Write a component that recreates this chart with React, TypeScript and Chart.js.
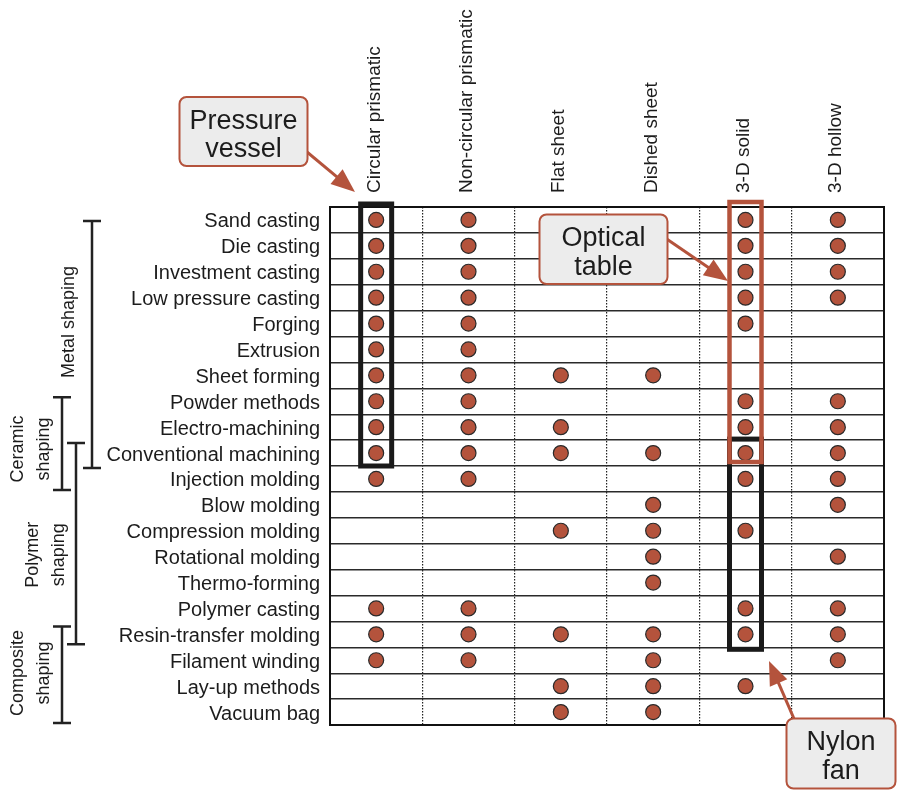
import React, { useEffect, useRef } from 'react';
import { Chart, registerables } from 'chart.js';

Chart.register(...registerables);

// ---------- data ----------
const processes = [
  'Sand casting',
  'Die casting',
  'Investment casting',
  'Low pressure casting',
  'Forging',
  'Extrusion',
  'Sheet forming',
  'Powder methods',
  'Electro-machining',
  'Conventional machining',
  'Injection molding',
  'Blow molding',
  'Compression molding',
  'Rotational molding',
  'Thermo-forming',
  'Polymer casting',
  'Resin-transfer molding',
  'Filament winding',
  'Lay-up methods',
  'Vacuum bag',
];

const shapes = [
  'Circular prismatic',
  'Non-circular prismatic',
  'Flat sheet',
  'Dished sheet',
  '3-D solid',
  '3-D hollow',
];

// 1 = process can make the shape (one entry per process, in order)
const circularPrismatic = [1, 1, 1, 1, 1, 1, 1, 1, 1, 1, 1, 0, 0, 0, 0, 1, 1, 1, 0, 0];
const nonCircularPrismatic = [1, 1, 1, 1, 1, 1, 1, 1, 1, 1, 1, 0, 0, 0, 0, 1, 1, 1, 0, 0];
const flatSheet = [0, 0, 0, 0, 0, 0, 1, 0, 1, 1, 0, 0, 1, 0, 0, 0, 1, 0, 1, 1];
const dishedSheet = [0, 0, 0, 0, 0, 0, 1, 0, 0, 1, 0, 1, 1, 1, 1, 0, 1, 1, 1, 1];
const solid3D = [1, 1, 1, 1, 1, 0, 0, 1, 1, 1, 1, 0, 1, 0, 0, 1, 1, 0, 1, 0];
const hollow3D = [1, 1, 1, 1, 0, 0, 0, 1, 1, 1, 1, 1, 0, 1, 0, 1, 1, 1, 0, 0];

const shapeColumns = [circularPrismatic, nonCircularPrismatic, flatSheet, dishedSheet, solid3D, hollow3D];

// process families (brackets on the left)
const groupNames = [['Metal shaping'], ['Ceramic', 'shaping'], ['Polymer', 'shaping'], ['Composite', 'shaping']];
const groupFirstRow = [0, 7, 9, 16];
const groupLastRow = [9, 10, 16, 19];

// highlighted columns (design examples)
const highlightShape = [0, 4, 4];
const highlightFirstRow = [0, 9, 0];
const highlightLastRow = [9, 16, 9];

const calloutTexts = [['Pressure', 'vessel'], ['Optical', 'table'], ['Nylon', 'fan']];

// ---------- styles ----------
const RED = '#b4533c';
const INK = '#1c1c1c';
const FONT = '"Liberation Sans", Arial, Helvetica, sans-serif';

// bracket styling (pixels)
const bracketX = [92, 62, 76, 62];
const bracketTopInset = [14, 9, 3, 5];
const bracketBottomInset = [2, -2, -3, -2];
const bracketLabelX = [69, 18.5, 33.5, 18.5];
const bracketLabelRow = [3.94, 8.84, 12.93, 17.49];

// highlight box styling
const highlightColor = ['#1a1a1a', '#1a1a1a', RED];
const highlightWidth = [5, 5, 4.5];
const highlightTopOff = [-3, -1, -5];
const highlightBotOff = [0, 2, -4];
const highlightHalfW = [15.5, 16, 16];

// callout boxes: [x, y, w, h], arrow [x0, y0, tipX, tipY]
const calloutBox = [
  [179.5, 97, 128, 69],
  [539.5, 214.5, 128, 69.5],
  [786.5, 718.5, 109, 70],
];
const calloutArrow = [
  [295, 142, 355, 192],
  [655, 231, 728, 281],
  [798, 728, 769, 661],
];

function roundRect(ctx: CanvasRenderingContext2D, x: number, y: number, w: number, h: number, r: number) {
  ctx.beginPath();
  ctx.moveTo(x + r, y);
  ctx.lineTo(x + w - r, y);
  ctx.arcTo(x + w, y, x + w, y + r, r);
  ctx.lineTo(x + w, y + h - r);
  ctx.arcTo(x + w, y + h, x + w - r, y + h, r);
  ctx.lineTo(x + r, y + h);
  ctx.arcTo(x, y + h, x, y + h - r, r);
  ctx.lineTo(x, y + r);
  ctx.arcTo(x, y, x + r, y, r);
  ctx.closePath();
}

function arrow(ctx: CanvasRenderingContext2D, x0: number, y0: number, x1: number, y1: number) {
  const dx = x1 - x0;
  const dy = y1 - y0;
  const len = Math.hypot(dx, dy);
  const ux = dx / len;
  const uy = dy / len;
  const headL = 24;
  const headW = 9.5;
  const bx = x1 - ux * headL;
  const by = y1 - uy * headL;
  ctx.strokeStyle = RED;
  ctx.fillStyle = RED;
  ctx.lineWidth = 3;
  ctx.beginPath();
  ctx.moveTo(x0, y0);
  ctx.lineTo(bx + ux * 2, by + uy * 2);
  ctx.stroke();
  ctx.beginPath();
  ctx.moveTo(x1, y1);
  ctx.lineTo(bx - uy * headW, by + ux * headW);
  ctx.lineTo(bx + uy * headW, by - ux * headW);
  ctx.closePath();
  ctx.fill();
}

const decorPlugin = {
  id: 'decor',
  afterDraw(chart: any) {
    const { ctx, chartArea: a, scales } = chart;
    const xs = scales.x;
    const ys = scales.y;
    const rowH = ys.getPixelForValue(1) - ys.getPixelForValue(0);
    const rowTop = (r: number) => ys.getPixelForValue(r) - rowH / 2;
    const rowBot = (r: number) => ys.getPixelForValue(r) + rowH / 2;
    ctx.save();

    // outer frame
    ctx.strokeStyle = '#111';
    ctx.lineWidth = 2;
    ctx.strokeRect(a.left, a.top, a.right - a.left, a.bottom - a.top);

    // highlight boxes
    highlightShape.forEach((c, i) => {
      const cx = xs.getPixelForValue(c);
      const t = rowTop(highlightFirstRow[i]) + highlightTopOff[i];
      const b = rowBot(highlightLastRow[i]) + highlightBotOff[i];
      const hw = highlightHalfW[i];
      ctx.strokeStyle = highlightColor[i];
      ctx.lineWidth = highlightWidth[i];
      ctx.lineJoin = 'miter';
      ctx.strokeRect(cx - hw, t, hw * 2, b - t);
    });

    // family brackets
    ctx.strokeStyle = '#222';
    ctx.lineWidth = 2.5;
    groupNames.forEach((_, i) => {
      const x = bracketX[i];
      const t = rowTop(groupFirstRow[i]) + bracketTopInset[i];
      const b = rowBot(groupLastRow[i]) + bracketBottomInset[i];
      ctx.beginPath();
      ctx.moveTo(x, t);
      ctx.lineTo(x, b);
      ctx.moveTo(x - 9, t);
      ctx.lineTo(x + 9, t);
      ctx.moveTo(x - 9, b);
      ctx.lineTo(x + 9, b);
      ctx.stroke();
    });

    // bracket labels (rotated)
    ctx.fillStyle = INK;
    ctx.font = `18px ${FONT}`;
    ctx.textAlign = 'center';
    ctx.textBaseline = 'middle';
    groupNames.forEach((lines, i) => {
      const cy = ys.getPixelForValue(bracketLabelRow[i]);
      lines.forEach((txt, j) => {
        ctx.save();
        ctx.translate(bracketLabelX[i] + j * 25.5, cy);
        ctx.rotate(-Math.PI / 2);
        ctx.fillText(txt, 0, 0);
        ctx.restore();
      });
    });

    // callouts
    calloutTexts.forEach((lines, i) => {
      const [ax0, ay0, ax1, ay1] = calloutArrow[i];
      arrow(ctx, ax0, ay0, ax1, ay1);
      const [x, y, w, h] = calloutBox[i];
      roundRect(ctx, x, y, w, h, 7);
      ctx.fillStyle = '#ececec';
      ctx.fill();
      ctx.strokeStyle = RED;
      ctx.lineWidth = 2;
      ctx.stroke();
      ctx.fillStyle = INK;
      ctx.font = `27px ${FONT}`;
      ctx.textAlign = 'center';
      ctx.textBaseline = 'alphabetic';
      lines.forEach((txt, j) => {
        ctx.fillText(txt, x + w / 2, y + 31.5 + j * 28.5);
      });
    });

    ctx.restore();
  },
};

export default function App() {
  const canvasRef = useRef<HTMLCanvasElement | null>(null);

  useEffect(() => {
    const canvas = canvasRef.current;
    if (!canvas) return;

    const points: { x: string; y: string }[] = [];
    shapeColumns.forEach((col, c) => {
      col.forEach((v, r) => {
        if (v) points.push({ x: shapes[c], y: processes[r] });
      });
    });

    const chart = new Chart(canvas, {
      type: 'scatter',
      data: {
        datasets: [
          {
            data: points as any,
            pointRadius: 7.5,
            pointHoverRadius: 7.5,
            pointBackgroundColor: RED,
            pointBorderColor: '#2a2a2a',
            pointBorderWidth: 1.2,
            pointStyle: 'circle',
          },
        ],
      },
      options: {
        animation: false,
        responsive: false,
        devicePixelRatio: 1,
        events: [],
        layout: { padding: { left: 0, top: 0, right: 17, bottom: 65 } },
        plugins: {
          legend: { display: false },
          tooltip: { enabled: false },
        },
        scales: {
          x: {
            type: 'category',
            position: 'top',
            labels: shapes,
            offset: true,
            grid: {
              offset: true,
              color: '#222',
              lineWidth: 1.2,
              drawTicks: false,
            },
            border: { display: false, dash: [1.5, 1.5] },
            ticks: {
              autoSkip: false,
              minRotation: 90,
              maxRotation: 90,
              padding: 14,
              labelOffset: 21,
              color: INK,
              font: { family: FONT, size: 19 },
            },
            afterFit: (scale: any) => {
              scale.height = 207;
            },
          },
          y: {
            type: 'category',
            labels: processes,
            offset: true,
            grid: {
              offset: true,
              color: '#2a2a2a',
              lineWidth: 1.4,
              drawTicks: false,
            },
            border: { display: false },
            ticks: {
              autoSkip: false,
              padding: 10,
              labelOffset: 2,
              color: INK,
              font: { family: FONT, size: 20 },
            },
            afterFit: (scale: any) => {
              scale.width = 330;
            },
          },
        },
      } as any,
      plugins: [decorPlugin],
    });

    return () => chart.destroy();
  }, []);

  return (
    <div style={{ position: 'absolute', left: 0, top: 0, width: 901, height: 790, background: '#fff' }}>
      <canvas ref={canvasRef} width={901} height={790} style={{ display: 'block', width: 901, height: 790 }} />
    </div>
  );
}
